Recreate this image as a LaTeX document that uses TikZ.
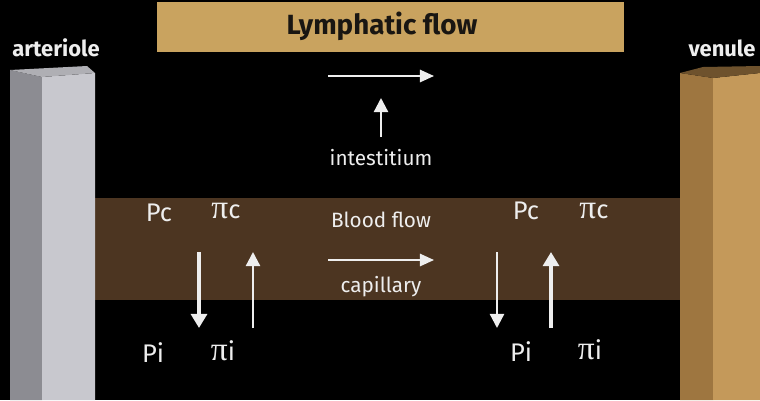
\documentclass[tikz,border=0pt]{standalone}
\usepackage{fontspec}
\setmainfont{Fira Sans}
\newfontfamily\pifamily{Liberation Serif}
\usetikzlibrary{arrows.meta}
\definecolor{lymph}{RGB}{201,163,95}
\definecolor{band}{RGB}{76,53,33}
\definecolor{artL}{RGB}{140,140,146}
\definecolor{artR}{RGB}{200,200,206}
\definecolor{artT}{RGB}{175,175,180}
\definecolor{venL}{RGB}{158,118,64}
\definecolor{venR}{RGB}{196,153,90}
\definecolor{venT}{RGB}{110,82,45}
\definecolor{txt}{RGB}{238,238,238}
\newcommand{\mypi}{{\pifamily\fontsize{19}{20}\selectfont π}}
\tikzset{
  lbl/.style={text=txt, font=\fontsize{14.5}{16}\selectfont, inner sep=0pt},
  small/.style={text=txt, font=\fontsize{11.8}{13}\selectfont, inner sep=0pt},
  thickarr/.style={draw=txt, line width=2.8pt, -{Triangle[length=8pt,width=9pt]}},
  thinarr/.style={draw=txt, line width=1.3pt, -{Triangle[length=8pt,width=8pt]}},
  flowarr/.style={draw=txt, line width=1.1pt, -{Triangle[length=8pt,width=7pt]}},
}
\begin{document}
\begin{tikzpicture}[x=0.02cm,y=-0.02cm]
\fill[black] (0,0) rectangle (760,400);
\useasboundingbox (0,0) rectangle (760,400);
% capillary band
\fill[band] (95,198) rectangle (681,300);
% arteriole column
\fill[artL] (10,70) -- (42,77) -- (42,400) -- (10,400) -- cycle;
\fill[artR] (42,77) -- (95,73) -- (95,400) -- (42,400) -- cycle;
\fill[artT] (10,70) -- (87,66) -- (95,73) -- (42,77) -- cycle;
% venule column
\fill[venL] (680,73) -- (713,78) -- (713,400) -- (680,400) -- cycle;
\fill[venR] (713,78) -- (760,73) -- (760,400) -- (713,400) -- cycle;
\fill[venT] (680,73) -- (703,67) -- (760,66) -- (760,73) -- (713,78) -- cycle;
% lymphatic box
\node[fill=lymph, minimum width=467*0.02cm, minimum height=50*0.02cm, inner sep=0pt]
  (lymph) at (390.5,27) {};
\node[font=\fontsize{15.8}{17}\selectfont\bfseries, text={rgb,255:red,25;green,22;blue,18}, inner sep=0pt]
  (lymphtxt) at (382,26) {Lymphatic flow};
% titles
\node[text=txt, font=\fontsize{12.5}{14}\selectfont\bfseries, inner sep=0pt] (art) at (56,48) {arteriole};
\node[text=txt, font=\fontsize{12.5}{14}\selectfont\bfseries, inner sep=0pt] (ven) at (722,48) {venule};
% interstitium
\node[small] (inter) at (381,158) {intestitium};
\coordinate (l1) at (328,76);
\coordinate (l2) at (434,76);
\draw[flowarr] (l1) -- (l2);
\coordinate (iu) at (381,137);
\coordinate (it) at (381,98);
\draw[thinarr] (iu) -- (it);
% blood flow
\node[small] (blood) at (381,220) {Blood flow};
\node[small] (cap) at (381,287) {capillary};
\coordinate (b1) at (328,260);
\coordinate (b2) at (434,260);
\draw[flowarr] (b1) -- (b2);
% left forces
\node[lbl] (pcL) at (159,213) {Pc};
\node[lbl] (picL) at (226,211) {\mypi c};
\node[lbl] (piL) at (153,353) {Pi};
\node[lbl] (piiL) at (223,351) {\mypi i};
\coordinate (dL1) at (199,252);
\coordinate (dL2) at (199,328);
\draw[thickarr] (dL1) -- (dL2);
\coordinate (uL1) at (253,328);
\coordinate (uL2) at (253,252);
\draw[thinarr] (uL1) -- (uL2);
% right forces
\node[lbl] (pcR) at (526,211) {Pc};
\node[lbl] (picR) at (594,211) {\mypi c};
\node[lbl] (piR) at (521,352) {Pi};
\node[lbl] (piiR) at (590,350) {\mypi i};
\coordinate (dR1) at (497,252);
\coordinate (dR2) at (497,328);
\draw[thinarr] (dR1) -- (dR2);
\coordinate (uR1) at (551,328);
\coordinate (uR2) at (551,252);
\draw[thickarr] (uR1) -- (uR2);
\end{tikzpicture}
\end{document}
